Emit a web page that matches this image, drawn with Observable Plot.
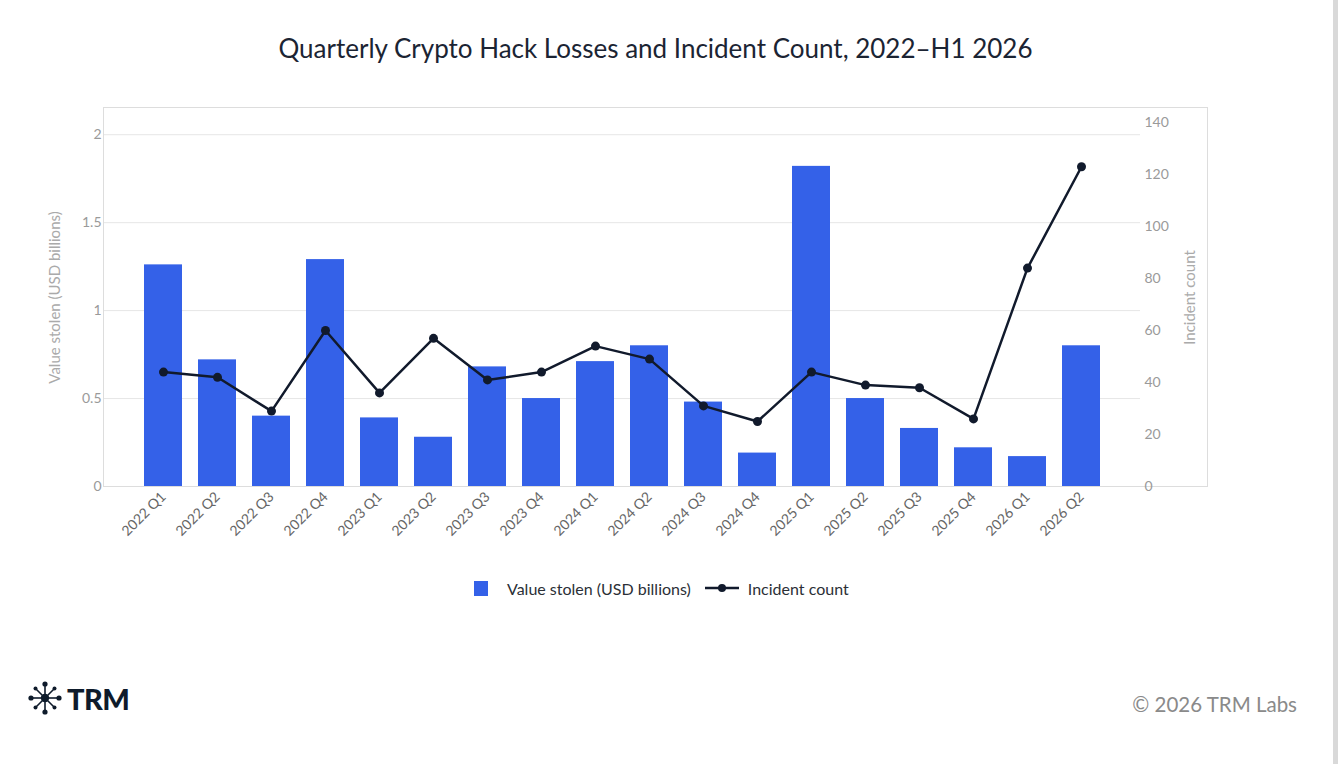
<!DOCTYPE html>
<html>
<head>
<meta charset="utf-8">
<script src="https://cdn.jsdelivr.net/npm/d3@7"></script>
<script src="https://cdn.jsdelivr.net/npm/@observablehq/plot@0.6"></script>
<style>
  html, body { margin: 0; padding: 0; background: #fff; }
  #page { position: relative; width: 1338px; height: 764px; overflow: hidden; font-family: Lato, "Noto Sans", sans-serif; }
  #title { position: absolute; left: 104px; width: 1103px; top: 30px; text-align: center; font-size: 26px; color: #1b2433; line-height: 36px; }
  #box { position: absolute; left: 103px; top: 107px; width: 1105px; height: 380px; border: 1.5px solid #dddddd; box-sizing: border-box; }
  .layer { position: absolute; left: 0; top: 0; }
  #legend { position: absolute; left: 474px; top: 578px; height: 20px; display: flex; align-items: center; font-size: 16px; color: #2b2f36; white-space: nowrap; }
  #logo { position: absolute; left: 28px; top: 680px; display: flex; align-items: center; }
  #logo span { font-size: 29px; font-weight: 900; color: #0e1b2b; letter-spacing: -0.5px; margin-left: 5px; }
  #copy { position: absolute; right: 41px; top: 692px; font-size: 20.5px; color: #8a8a8a; }
  #edge { position: absolute; left: 1333px; top: 0; width: 5px; height: 764px; background: #d9d9d9; }
</style>
</head>
<body>
<div id="page">
  <div id="title">Quarterly Crypto Hack Losses and Incident Count, 2022–H1 2026</div>
  <div id="box"></div>
  <div id="chart1" class="layer"></div>
  <div id="chart2" class="layer"></div>
  <div id="legend">
    <span style="display:inline-block;width:14px;height:15px;background:#3461e8;margin-right:19px;"></span>
    <span>Value stolen (USD billions)</span>
    <svg width="36" height="12" style="margin-left:13px;margin-right:8px;">
      <line x1="1" y1="6" x2="35" y2="6" stroke="#111a2c" stroke-width="2.5"></line>
      <circle cx="18" cy="6" r="4" fill="#111a2c"></circle>
    </svg>
    <span>Incident count</span>
  </div>
  <div id="logo">
    <svg width="34" height="36" viewBox="-17 -18 34 36">
      <g stroke="#0e1b2b" stroke-width="1.6" fill="#0e1b2b">
        <line x1="0" y1="0" x2="0" y2="-14"></line>
        <line x1="0" y1="0" x2="0" y2="14"></line>
        <line x1="0" y1="0" x2="-14" y2="0"></line>
        <line x1="0" y1="0" x2="14" y2="0"></line>
        <line x1="0" y1="0" x2="-9.5" y2="-9.5"></line>
        <line x1="0" y1="0" x2="9.5" y2="-9.5"></line>
        <line x1="0" y1="0" x2="-9.5" y2="9.5"></line>
        <line x1="0" y1="0" x2="9.5" y2="9.5"></line>
      </g>
      <g fill="#0e1b2b">
        <circle r="4.2"></circle>
        <circle cx="0" cy="-14" r="2.6"></circle>
        <circle cx="0" cy="14" r="2.6"></circle>
        <circle cx="-14" cy="0" r="2.6"></circle>
        <circle cx="14" cy="0" r="2.6"></circle>
        <circle cx="-9.5" cy="-9.5" r="2"></circle>
        <circle cx="9.5" cy="-9.5" r="2"></circle>
        <circle cx="-9.5" cy="9.5" r="2"></circle>
        <circle cx="9.5" cy="9.5" r="2"></circle>
      </g>
    </svg>
    <span>TRM</span>
  </div>
  <div id="copy">© 2026 TRM Labs</div>
  <div id="edge"></div>
</div>
<script>
const quarters = ["2022 Q1","2022 Q2","2022 Q3","2022 Q4","2023 Q1","2023 Q2","2023 Q3","2023 Q4","2024 Q1","2024 Q2","2024 Q3","2024 Q4","2025 Q1","2025 Q2","2025 Q3","2025 Q4","2026 Q1","2026 Q2"];
const valueStolen = [1.26,0.72,0.40,1.29,0.39,0.28,0.68,0.50,0.71,0.80,0.48,0.19,1.82,0.50,0.33,0.22,0.17,0.80];
const incidentCount = [44,42,29,60,36,57,41,44,54,49,31,25,44,39,38,26,84,123];
const leftTicks = [0,0.5,1,1.5,2];
const rightTicks = [0,20,40,60,80,100,120,140];

const data = quarters.map((q, i) => ({quarter: q, value: valueStolen[i], count: incidentCount[i]}));

const common = {
  width: 1338, height: 560,
  marginLeft: 104, marginRight: 198, marginTop: 108, marginBottom: 74,
  style: {background: "transparent", fontFamily: "Lato, 'Noto Sans', sans-serif", overflow: "visible"}
};
const xScale = {type: "band", domain: quarters, paddingInner: 0.3, paddingOuter: 0.7, label: null};

const chart1 = Plot.plot({
  ...common,
  x: xScale,
  y: {domain: [0, 2.149], label: null},
  marks: [
    Plot.gridY(leftTicks.filter(d => d > 0), {stroke: "#e6e6e6", strokeOpacity: 1, strokeWidth: 1}),
    Plot.barY(data, {x: "quarter", y: "value", fill: "#3461e8"}),
    Plot.axisY(leftTicks, {tickSize: 0, tickPadding: 3, fontSize: 14, fill: "#9a9a9a", tickFormat: d => String(d), label: null}),
    Plot.axisX({tickSize: 0, tickRotate: -45, tickPadding: 8, fontSize: 14, fill: "#666", label: null}),
    Plot.text(["Value stolen (USD billions)"], {frameAnchor: "left", textAnchor: "middle", dx: -49, rotate: -90, fontSize: 15, fill: "#aaaaaa"})
  ]
});
document.getElementById("chart1").appendChild(chart1);

const chart2 = Plot.plot({
  ...common,
  x: {...xScale, axis: null},
  y: {domain: [0, 145.4], label: null},
  marks: [
    Plot.lineY(data, {x: "quarter", y: "count", stroke: "#111a2c", strokeWidth: 2.5}),
    Plot.dot(data, {x: "quarter", y: "count", fill: "#111a2c", r: 4.5}),
    Plot.axisY(rightTicks, {anchor: "right", tickSize: 0, tickPadding: 4, fontSize: 14, fill: "#9a9a9a", label: null}),
    Plot.text(["Incident count"], {frameAnchor: "right", textAnchor: "middle", dx: 50, rotate: -90, fontSize: 15, fill: "#aaaaaa"})
  ]
});
document.getElementById("chart2").appendChild(chart2);
</script>
</body>
</html>
